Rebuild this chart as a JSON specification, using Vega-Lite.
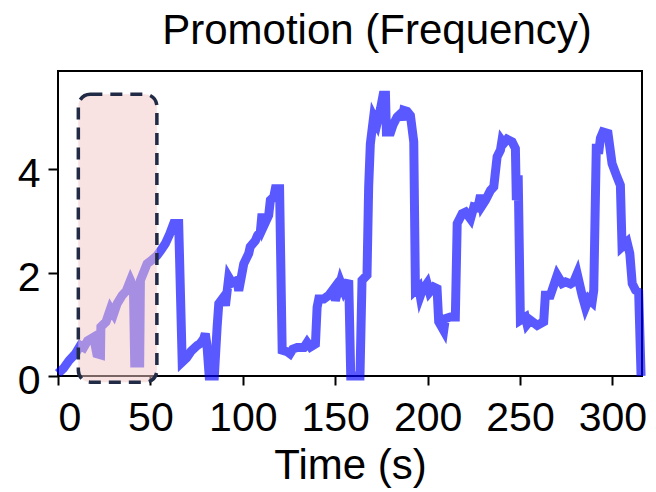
{
  "$schema": "https://vega.github.io/schema/vega-lite/v6.json",
  "width": 584,
  "height": 305,
  "autosize": "none",
  "padding": {"left": 58, "top": 71, "right": 14, "bottom": 116},
  "background": "white",
  "config": {
    "font": "Liberation Sans",
    "view": {"stroke": "black", "strokeWidth": 2},
    "axis": {"grid": false, "domain": false, "tickColor": "black", "tickWidth": 2, "tickSize": 9, "labelColor": "black", "labelFontSize": 41, "labelFont": "Liberation Sans", "titleFont": "Liberation Sans", "titleFontSize": 42, "titleFontWeight": "normal", "titleColor": "black"}
  },
  "title": {"text": "Promotion (Frequency)", "fontSize": 42, "fontWeight": "normal", "font": "Liberation Sans", "color": "black", "anchor": "middle", "dx": 27, "baseline": "alphabetic", "offset": -15},
  "datasets": {
    "series": [
      {"t": 0, "v": 0.05}, {"t": 3, "v": 0.15}, {"t": 6, "v": 0.3}, {"t": 9.4, "v": 0.43}, {"t": 12.1, "v": 0.59}, {"t": 13.9, "v": 0.55}, {"t": 16, "v": 0.68}, {"t": 19.3, "v": 0.75}, {"t": 21, "v": 0.43}, {"t": 23, "v": 0.41}, {"t": 23.2, "v": 0.95}, {"t": 26, "v": 1.05}, {"t": 28.4, "v": 1.3}, {"t": 30.1, "v": 1.2}, {"t": 32, "v": 1.4}, {"t": 34.7, "v": 1.56}, {"t": 37, "v": 1.65}, {"t": 39.2, "v": 1.85}, {"t": 40.8, "v": 1.72}, {"t": 41.5, "v": 0.25}, {"t": 44.2, "v": 0.25}, {"t": 44.6, "v": 1.85}, {"t": 48.2, "v": 2.17}, {"t": 51, "v": 2.25}, {"t": 53.6, "v": 2.33}, {"t": 56, "v": 2.45}, {"t": 58.1, "v": 2.56}, {"t": 60.5, "v": 2.75}, {"t": 62.6, "v": 2.95}, {"t": 65.3, "v": 2.95}, {"t": 67.2, "v": 0.27}, {"t": 69.6, "v": 0.35}, {"t": 72, "v": 0.48}, {"t": 75.3, "v": 0.59}, {"t": 77, "v": 0.63}, {"t": 78.8, "v": 0.72}, {"t": 79.7, "v": 0.82}, {"t": 80.6, "v": 0.6}, {"t": 81.8, "v": 0}, {"t": 84.6, "v": 0}, {"t": 86.1, "v": 0.95}, {"t": 87, "v": 1.4}, {"t": 89.7, "v": 1.53}, {"t": 90.6, "v": 1.36}, {"t": 92.4, "v": 1.91}, {"t": 94.2, "v": 1.8}, {"t": 96.9, "v": 1.85}, {"t": 97.8, "v": 1.65}, {"t": 100.5, "v": 2.17}, {"t": 103.2, "v": 2.37}, {"t": 104, "v": 2.5}, {"t": 106.8, "v": 2.62}, {"t": 108, "v": 2.72}, {"t": 109.5, "v": 2.79}, {"t": 110.4, "v": 3.14}, {"t": 111.3, "v": 2.9}, {"t": 114, "v": 3.11}, {"t": 114.9, "v": 3.4}, {"t": 116.7, "v": 3.46}, {"t": 117.6, "v": 3.62}, {"t": 119.9, "v": 3.62}, {"t": 121.3, "v": 0.5}, {"t": 124, "v": 0.47}, {"t": 125.5, "v": 0.43}, {"t": 127, "v": 0.52}, {"t": 129.4, "v": 0.55}, {"t": 133, "v": 0.55}, {"t": 134.8, "v": 0.65}, {"t": 136.6, "v": 0.56}, {"t": 139.3, "v": 0.62}, {"t": 140.2, "v": 1.33}, {"t": 141.1, "v": 1.49}, {"t": 143.8, "v": 1.49}, {"t": 146.5, "v": 1.56}, {"t": 149.2, "v": 1.69}, {"t": 150.1, "v": 1.46}, {"t": 152.8, "v": 1.82}, {"t": 154.6, "v": 1.65}, {"t": 157.3, "v": 1.85}, {"t": 158.4, "v": 0}, {"t": 163.4, "v": 0}, {"t": 164.5, "v": 1.85}, {"t": 167.2, "v": 1.95}, {"t": 168.1, "v": 3.66}, {"t": 169, "v": 4.49}, {"t": 170.8, "v": 5.01}, {"t": 172.6, "v": 4.88}, {"t": 174.5, "v": 5.17}, {"t": 175.9, "v": 5.43}, {"t": 177.2, "v": 5.43}, {"t": 177.7, "v": 4.72}, {"t": 180, "v": 4.72}, {"t": 181.2, "v": 4.85}, {"t": 183.5, "v": 5.01}, {"t": 185.3, "v": 5.07}, {"t": 186.2, "v": 4.95}, {"t": 187.1, "v": 5.14}, {"t": 188.9, "v": 5.12}, {"t": 190.7, "v": 5.04}, {"t": 192.5, "v": 4.53}, {"t": 193.4, "v": 1.66}, {"t": 195.2, "v": 1.72}, {"t": 196, "v": 1.55}, {"t": 197, "v": 1.65}, {"t": 199.7, "v": 1.79}, {"t": 201, "v": 1.62}, {"t": 203.3, "v": 1.72}, {"t": 205.1, "v": 1.69}, {"t": 206, "v": 1.05}, {"t": 208.7, "v": 0.88}, {"t": 209.6, "v": 1.11}, {"t": 212.3, "v": 1.14}, {"t": 215, "v": 1.14}, {"t": 216, "v": 2.95}, {"t": 218.7, "v": 3.14}, {"t": 220.5, "v": 3.17}, {"t": 223.2, "v": 3.04}, {"t": 225, "v": 3.27}, {"t": 227.2, "v": 3.25}, {"t": 228.6, "v": 3.5}, {"t": 229.5, "v": 3.3}, {"t": 231.3, "v": 3.4}, {"t": 234, "v": 3.59}, {"t": 235.8, "v": 3.66}, {"t": 237.6, "v": 4.24}, {"t": 239.4, "v": 4.37}, {"t": 240.2, "v": 4.55}, {"t": 241.2, "v": 4.5}, {"t": 243, "v": 4.58}, {"t": 245.7, "v": 4.53}, {"t": 247.5, "v": 4.4}, {"t": 248, "v": 3.4}, {"t": 249, "v": 3.88}, {"t": 250.2, "v": 1.08}, {"t": 252.9, "v": 1.14}, {"t": 253.8, "v": 1.0}, {"t": 255.6, "v": 1.08}, {"t": 259.3, "v": 0.98}, {"t": 262.8, "v": 1.05}, {"t": 263.7, "v": 1.56}, {"t": 266.4, "v": 1.56}, {"t": 270.1, "v": 1.95}, {"t": 272.8, "v": 1.79}, {"t": 274.6, "v": 1.82}, {"t": 277.3, "v": 1.78}, {"t": 279, "v": 1.82}, {"t": 280.9, "v": 1.98}, {"t": 283.6, "v": 1.56}, {"t": 285.4, "v": 1.33}, {"t": 287.2, "v": 1.49}, {"t": 289, "v": 1.43}, {"t": 289.9, "v": 1.66}, {"t": 291.3, "v": 4.49}, {"t": 292.5, "v": 4.3}, {"t": 293.5, "v": 4.6}, {"t": 294.9, "v": 4.72}, {"t": 297.6, "v": 4.69}, {"t": 299.8, "v": 4.11}, {"t": 302.5, "v": 3.85}, {"t": 304.3, "v": 3.69}, {"t": 305.2, "v": 2.5}, {"t": 307.9, "v": 2.59}, {"t": 309.4, "v": 2.37}, {"t": 310.7, "v": 1.79}, {"t": 312.5, "v": 1.66}, {"t": 314.2, "v": 1.62}, {"t": 315.5, "v": 0}
    ],
    "box": [{"x1": 11, "x2": 53.5, "y1": -0.12, "y2": 5.45}]
  },
  "layer": [
    {
      "data": {"name": "series"},
      "mark": {"type": "line", "color": "blue", "opacity": 0.65, "strokeWidth": 9, "strokeJoin": "miter", "strokeCap": "butt", "clip": false},
      "encoding": {
        "x": {"field": "t", "type": "quantitative", "scale": {"domain": [0, 316], "nice": false, "zero": false}, "axis": {"values": [0, 50, 100, 150, 200, 250, 300], "title": "Time (s)", "labelBaseline": "alphabetic", "labelPadding": 45, "titleBaseline": "alphabetic", "titleY": 102}},
        "y": {"field": "v", "type": "quantitative", "scale": {"domain": [0, 5.9], "nice": false}, "axis": {"values": [0, 2, 4], "title": null, "tickSize": 10, "labelPadding": 8, "labelBaseline": "alphabetic", "labelOffset": 17.5}}
      }
    },
    {
      "data": {"name": "box"},
      "mark": {"type": "rect", "fill": "#f4c6c6", "fillOpacity": 0.5, "stroke": "#222b45", "strokeWidth": 3.5, "strokeDash": [12, 8], "cornerRadius": 12, "clip": false},
      "encoding": {
        "x": {"field": "x1", "type": "quantitative"},
        "x2": {"field": "x2"},
        "y": {"field": "y1", "type": "quantitative"},
        "y2": {"field": "y2"}
      }
    }
  ]
}
